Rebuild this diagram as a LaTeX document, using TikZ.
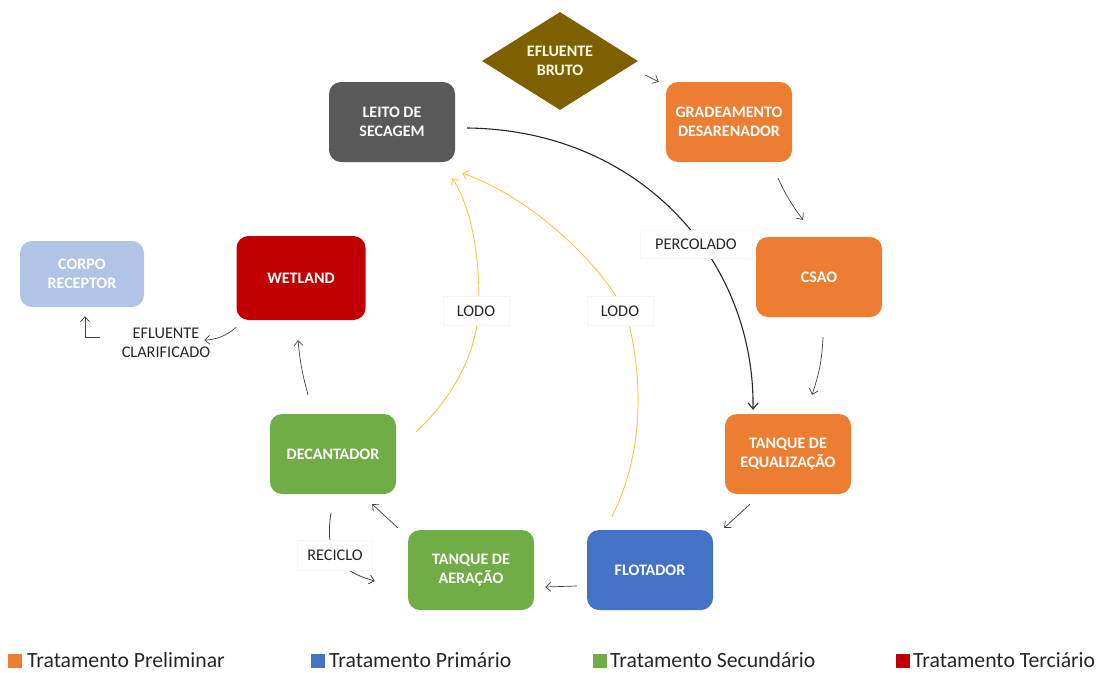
\documentclass[tikz,border=0pt]{standalone}
\usepackage{fontspec}
\setmainfont{Carlito}
\usetikzlibrary{shapes.geometric,arrows.meta,calc}
\definecolor{cbrown}{HTML}{7F6000}
\definecolor{cgray}{HTML}{595959}
\definecolor{corange}{HTML}{ED7D31}
\definecolor{cblue}{HTML}{4472C4}
\definecolor{cgreen}{HTML}{70AD47}
\definecolor{cred}{HTML}{C00000}
\definecolor{clight}{HTML}{B0C4E6}
\definecolor{cyellow}{HTML}{F7C548}
\definecolor{carrow}{HTML}{404040}
\definecolor{ctext}{HTML}{262626}
\begin{document}
\begin{tikzpicture}[x=1pt,y=-1pt,
  box/.style={rounded corners=12pt, minimum width=126pt, minimum height=80pt,
    inner sep=2pt, align=center, text=white,
    font=\fontsize{16}{18.5}\selectfont\bfseries},
  arr/.style={draw=carrow, line width=0.7pt, -{Straight Barb[length=5pt,width=9pt]}},
  lodo/.style={draw=cyellow, line width=0.9pt, -{Straight Barb[length=5pt,width=9pt]}},
  perc/.style={draw=black!85, line width=1.1pt, -{Straight Barb[length=6pt,width=10pt]}},
  lbl/.style={fill=white, draw=black!4, align=center, text=ctext,
    font=\fontsize{16.3}{19}\selectfont, inner sep=3pt},
  legsq/.style={minimum size=14pt, inner sep=0pt, anchor=south west},
  legtx/.style={anchor=base west, inner sep=0pt, text depth=0pt, text=ctext,
    font=\fontsize{21.7}{23}\selectfont}
]
\useasboundingbox (0,0) rectangle (1100,672);

% nodes
\node[diamond, fill=cbrown, minimum width=156pt, minimum height=98pt, inner sep=0pt,
  aspect=1.6, align=center, text=white!90!yellow, font=\fontsize{16}{18.5}\selectfont\bfseries]
  (bruto) at (560,61) {EFLUENTE\\BRUTO};
\node[box, fill=cgray] (leito) at (392,122) {LEITO DE\\SECAGEM};
\node[box, fill=corange] (grad) at (729,122) {GRADEAMENTO\\DESARENADOR};
\node[box, fill=corange] (csao) at (819,277) {CSAO};
\node[box, fill=corange] (teq) at (788,454) {TANQUE DE\\EQUALIZAÇÃO};
\node[box, fill=cblue] (flot) at (650,570) {FLOTADOR};
\node[box, fill=cgreen] (aer) at (471,570) {TANQUE DE\\AERAÇÃO};
\node[box, fill=cgreen] (dec) at (333,454) {DECANTADOR};
\node[box, fill=cred, minimum width=129pt, minimum height=84pt] (wet) at (301,278) {WETLAND};
\node[box, fill=clight, minimum width=124pt, minimum height=66pt] (corpo) at (82,274) {CORPO\\RECEPTOR};

% main flow arrows
\draw[arr] ($(bruto.east)+(7,14)$) -- ($(grad.north west)+(-7,0)$);
\draw[arr] ($(grad.south)+(49,16)$) to[bend right=6] ($(csao.north)+(-16,-17)$);
\draw[arr] ($(csao.south)+(4,20)$) to[bend left=8] ($(teq.north)+(24,-19)$);
\draw[arr] ($(teq.south)+(-38,10)$) -- ($(flot.north east)+(11,-2)$);
\draw[arr] ($(flot.west)+(-10,16)$) -- ($(aer.east)+(11,17)$);
\draw[arr] ($(aer.north west)+(-10,-2)$) -- ($(dec.south east)+(-24,10)$);
\draw[arr] ($(dec.north)+(-25,-19)$) to[bend left=5] ($(wet.south)+(-3,20)$);
\draw[arr] ($(wet.south west)+(0,7)$) to[bend left=18] ($(wet.south west)+(-32,20)$);

% label efluente clarificado and L-arrow
\node[inner sep=1pt, align=center, text=ctext, font=\fontsize{16.3}{19}\selectfont]
  (clar) at (166,343) {EFLUENTE\\CLARIFICADO};
\draw[arr] ($(corpo.south)+(18,30)$) -| ($(corpo.south)+(3,9)$);

% percolado
\draw[perc] ($(leito.east)+(12,6)$) .. controls (640,130) and (755,260) .. ($(teq.north)+(-35,-4)$);
\node[lbl, minimum width=112pt, minimum height=28pt] (lperc) at (696,244) {PERCOLADO};

% lodo 1
\draw[lodo] ($(dec.north east)+(20,18)$) .. controls (455,395) and (479,350) .. (479,300)
  .. controls (479,250) and (470,205) .. ($(leito.south east)+(-3,16)$);
\node[lbl, minimum width=66pt, minimum height=29pt] (llodo1) at (476,311) {LODO};

% lodo 2
\draw[lodo] ($(flot.north west)+(25,-13)$) .. controls (636,470) and (648,400) .. (628,320)
  .. controls (615,280) and (540,200) .. ($(leito.south east)+(7,11)$);
\node[lbl, minimum width=66pt, minimum height=29pt] (llodo2) at (620,311) {LODO};

% reciclo
\draw[arr, line width=0.8pt] ($(dec.south)+(-2,19)$) .. controls (325,550) and (335,570) .. ($(aer.west)+(-33,11)$);
\node[lbl, minimum width=75pt, minimum height=30pt] (lrec) at (335,555) {RECICLO};

% legend
\node[legsq, fill=corange] (sq1) at (8,668) {};
\node[legtx] (leg1) at (27,667) {Tratamento Preliminar};
\node[legsq, fill=cblue] (sq2) at (311,668) {};
\node[legtx] (leg2) at (329,667) {Tratamento Primário};
\node[legsq, fill=cgreen] (sq3) at (593,668) {};
\node[legtx] (leg3) at (610,667) {Tratamento Secundário};
\node[legsq, fill=cred] (sq4) at (896,668) {};
\node[legtx] (leg4) at (913,667) {Tratamento Terciário};
\end{tikzpicture}
\end{document}
